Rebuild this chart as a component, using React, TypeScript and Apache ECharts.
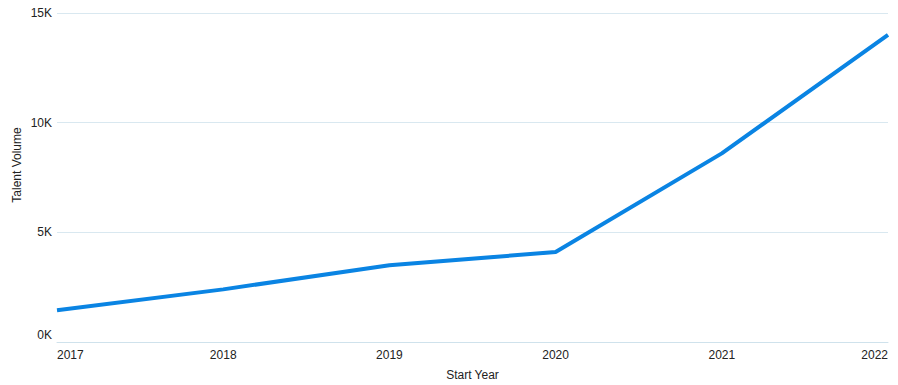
import React, { useEffect, useRef } from "react";
import * as echarts from "echarts";

const years = ["2017", "2018", "2019", "2020", "2021", "2022"];
const talentVolume = [1450, 2400, 3500, 4100, 8600, 14000];
const yTicks = [0, 5000, 10000, 15000];

export default function App() {
  const ref = useRef<HTMLDivElement>(null);
  useEffect(() => {
    if (!ref.current) return;
    const chart = echarts.init(ref.current, undefined, { renderer: "svg" });
    const font = "Liberation Sans, Arial, sans-serif";
    chart.setOption({
      animation: false,
      grid: {
        left: 57,
        right: 10,
        top: 13,
        bottom: 43,
        containLabel: false,
        outerBoundsMode: "none",
      },
      xAxis: {
        type: "category",
        data: years,
        boundaryGap: false,
        name: "Start Year",
        nameLocation: "middle",
        nameGap: 27,
        nameTextStyle: { color: "#222", fontSize: 12, fontFamily: font },
        axisLine: { show: true, lineStyle: { color: "#cfe2ec", width: 1 } },
        axisTick: { show: false },
        axisLabel: {
          color: "#222",
          fontSize: 12,
          fontFamily: font,
          margin: 7,
          alignMinLabel: "left",
          alignMaxLabel: "right",
        },
        splitLine: { show: false },
      },
      yAxis: {
        type: "value",
        min: yTicks[0],
        max: yTicks[yTicks.length - 1],
        interval: 5000,
        axisLine: { show: false },
        axisTick: { show: false },
        axisLabel: {
          color: "#222",
          fontSize: 12,
          fontFamily: font,
          margin: 5,
          formatter: (v: number) =>
            v === 0 ? "{b|0K}" : `${Math.round(v / 1000)}K`,
          rich: {
            b: { color: "#222", fontSize: 12, fontFamily: font, padding: [0, 0, 14, 0] },
          },
        },
        splitLine: { lineStyle: { color: "#d9e8f0", width: 1 } },
      },
      graphic: [
        {
          type: "text",
          x: 11,
          y: 165,
          rotation: Math.PI / 2,
          style: {
            text: "Talent Volume",
            fill: "#222",
            fontSize: 12,
            fontFamily: font,
            align: "center",
            verticalAlign: "top",
          },
        },
      ],
      series: [
        {
          type: "line",
          data: talentVolume,
          symbol: "none",
          lineStyle: { color: "#0A84E3", width: 4 },
          itemStyle: { color: "#0A84E3" },
        },
      ],
    });
    return () => chart.dispose();
  }, []);
  return <div ref={ref} style={{ width: 898, height: 385, position: "absolute", left: 0, top: 0 }} />;
}
